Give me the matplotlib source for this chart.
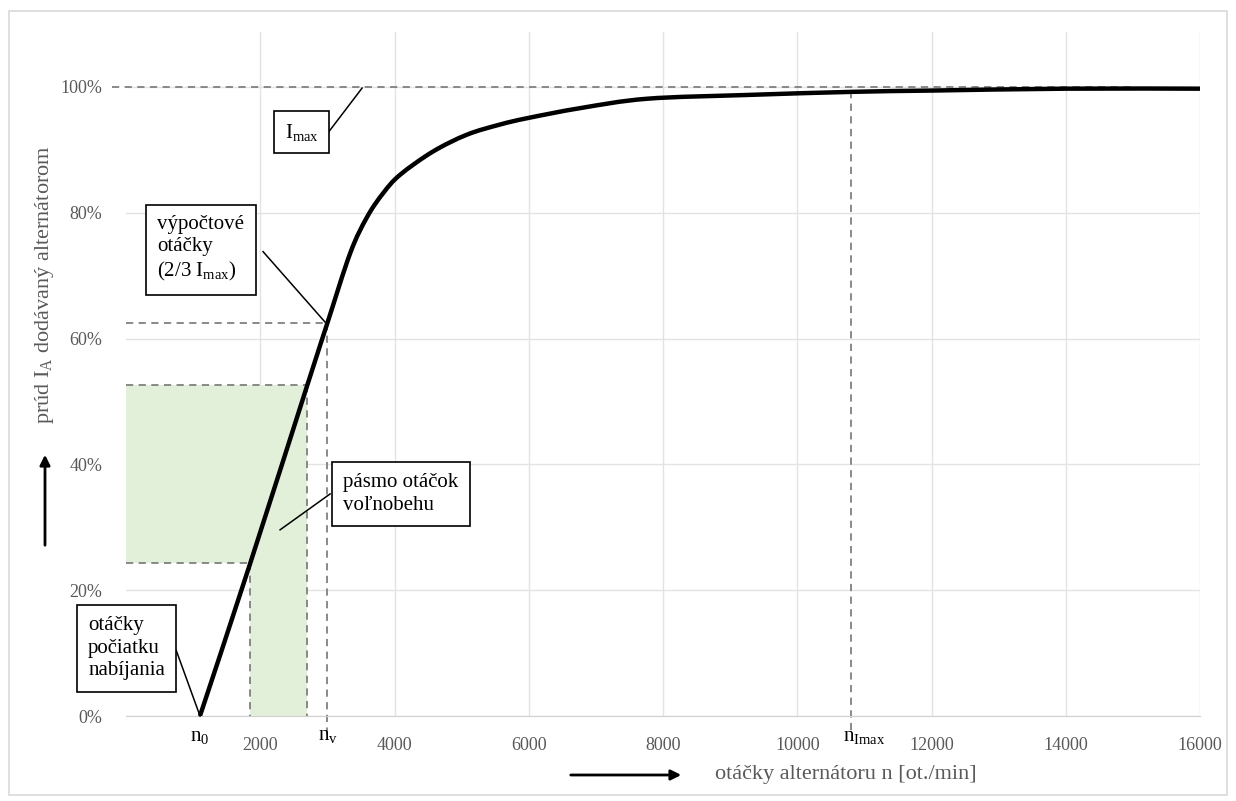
import matplotlib
matplotlib.use("Agg")
import matplotlib.pyplot as plt
from matplotlib.patches import Rectangle, FancyArrowPatch, PathPatch
from matplotlib.path import Path
from matplotlib.transforms import blended_transform_factory

plt.rcParams['font.family'] = ['Liberation Serif', 'DejaVu Serif']
plt.rcParams['mathtext.fontset'] = 'custom'
plt.rcParams['mathtext.rm'] = 'Liberation Serif'
plt.rcParams['mathtext.it'] = 'Liberation Serif'

# krivka prúdu alternátora (odčítané z grafu)
otacky = [1100, 1850, 2700, 3000, 3340, 3590, 3830, 4080, 4570, 5080, 5570,
          5970, 6760, 7760, 9250, 10830, 12000, 14000, 16000]
prud = [0.0, 24.3, 52.6, 62.5, 73.6, 79.3, 83.1, 86.0, 89.7, 92.4, 94.0,
        95.0, 96.6, 98.1, 98.7, 99.2, 99.4, 99.7, 99.7]

n0 = 1100
n_vol_min = 1850
n_vol_max = 2700
n_v = 3000
n_imax = 10800
i_vol_min = 24.3
i_vol_max = 52.6
i_v = 62.5

x_ticks = [2000, 4000, 6000, 8000, 10000, 12000, 14000, 16000]
y_ticks = [0, 20, 40, 60, 80, 100]

gray_txt = '#595959'
dash_col = '#808080'
green = '#e2efd9'


# vyhladená čiara ako v Exceli (Catmull-Rom -> Bezier)
def smooth_path(x, y):
    pts = list(zip(x, y))
    verts = [pts[0]]
    codes = [Path.MOVETO]
    for i in range(len(pts) - 1):
        p0 = pts[i - 1] if i > 0 else pts[i]
        p1 = pts[i]
        p2 = pts[i + 1]
        p3 = pts[i + 2] if i + 2 < len(pts) else pts[i + 1]
        c1 = (p1[0] + (p2[0] - p0[0]) / 6, p1[1] + (p2[1] - p0[1]) / 6)
        c2 = (p2[0] - (p3[0] - p1[0]) / 6, p2[1] - (p3[1] - p1[1]) / 6)
        verts += [c1, c2, p2]
        codes += [Path.CURVE4] * 3
    return Path(verts, codes)


fig = plt.figure(figsize=(12.36, 8.01), dpi=100)
ax = fig.add_axes([0.102, 0.106, 0.869, 0.854])
ax.set_xlim(0, 16000)
ax.set_ylim(0, 108.7)

# rámik grafu
fig.patches.append(Rectangle((9/1236, 1 - 795/801), 1218/1236, 784/801,
                             transform=fig.transFigure, fill=False,
                             edgecolor='#d9d9d9', linewidth=1.2))

for s in ['top', 'right', 'left']:
    ax.spines[s].set_visible(False)
ax.spines['bottom'].set_color('#d0d0d0')
ax.set_xticks(x_ticks)
ax.set_yticks(y_ticks)
ax.set_yticklabels([f"{v}%" for v in y_ticks])
ax.tick_params(length=0, labelsize=13, labelcolor=gray_txt)
ax.tick_params(axis='x', pad=15)
ax.tick_params(axis='y', pad=17)
ax.grid(True, color='#e3e3e3', linewidth=1)
ax.set_axisbelow(True)

# pásmo voľnobehu
ax.fill_between([0, n_vol_max], i_vol_min, i_vol_max, color=green, linewidth=0, zorder=1)
ax.fill_between([n_vol_min, n_vol_max], 0, i_vol_min, color=green, linewidth=0, zorder=1)

dk = dict(color=dash_col, linestyle=(0, (4, 3)), linewidth=1.3, zorder=2, clip_on=False)
ax.plot([-210, 15000], [100, 100], **dk)
ax.plot([0, n_v], [i_v, i_v], **dk)
ax.plot([n_v, n_v], [i_v, -2.9], **dk)
ax.plot([n_imax, n_imax], [99.3, -2.9], **dk)
ax.plot([0, n_vol_min], [i_vol_min, i_vol_min], **dk)
ax.plot([n_vol_min, n_vol_min], [i_vol_min, 0], **dk)
ax.plot([0, n_vol_max], [i_vol_max, i_vol_max], **dk)
ax.plot([n_vol_max, n_vol_max], [i_vol_max, 0], **dk)

ax.add_patch(PathPatch(smooth_path(otacky, prud), facecolor='none', edgecolor='black',
                       linewidth=3.2, zorder=4, capstyle='butt'))

# popisky n0, nv, nImax
tr = blended_transform_factory(ax.transData, ax.transAxes)
ax.text(n0, -0.03, r'n$_0$', transform=tr, ha='center', va='center', fontsize=15)
ax.text(n_v, -0.028, r'n$_\mathrm{v}$', transform=tr, ha='center', va='center', fontsize=15)
ax.text(n_imax - 120, -0.03, r'n$_\mathrm{Imax}$', transform=tr, ha='left', va='center', fontsize=15)

# vysvetlivky
box = dict(boxstyle='square,pad=0.55', facecolor='white', edgecolor='black', linewidth=1.2)
lk = dict(color='black', linewidth=1.1, zorder=5, clip_on=False)

ax.text(2620, 92.8, r'I$_\mathrm{max}$', ha='center', va='center', fontsize=15,
        bbox=dict(boxstyle='square,pad=0.5', facecolor='white', edgecolor='black', linewidth=1.2), zorder=6)
ax.plot([3009, 3516], [92.7, 99.8], **lk)

ax.text(462, 74.2, 'výpočtové\notáčky\n(2/3 I$_\\mathrm{max}$)', ha='left', va='center',
        fontsize=15, linespacing=1.25, bbox=box, zorder=6)
ax.plot([2041, 2965], [73.8, 62.6], **lk)

ax.text(3233, 35.3, 'pásmo otáčok\nvoľnobehu', ha='left', va='center',
        fontsize=15, linespacing=1.25, bbox=box, zorder=6)
ax.plot([3039, 2294], [35.3, 29.6], **lk)

ax.text(-566, 10.8, 'otáčky\npočiatku\nnabíjania', ha='left', va='center',
        fontsize=15, linespacing=1.25, bbox=box, zorder=6, clip_on=False)
ax.plot([745, 1102], [10.5, 0], **lk)

# názvy osí so šípkami
fig.text(45/1236, 1 - 285/801, r'prúd I$_\mathrm{A}$ dodávaný alternátorom', rotation=90,
         ha='center', va='center', fontsize=16, color=gray_txt)
fig.text(715/1236, 1 - 775/801, 'otáčky alternátoru n [ot./min]', ha='left', va='center',
         fontsize=16, color=gray_txt)
arr = dict(arrowstyle='-|>', color='black', linewidth=2, mutation_scale=15)
fig.add_artist(FancyArrowPatch((45/1236, 1 - 548/801), (45/1236, 1 - 452/801),
                               transform=fig.transFigure, **arr))
fig.add_artist(FancyArrowPatch((568/1236, 1 - 775/801), (684/1236, 1 - 775/801),
                               transform=fig.transFigure, **arr))

fig.savefig('out.png', dpi=100)
